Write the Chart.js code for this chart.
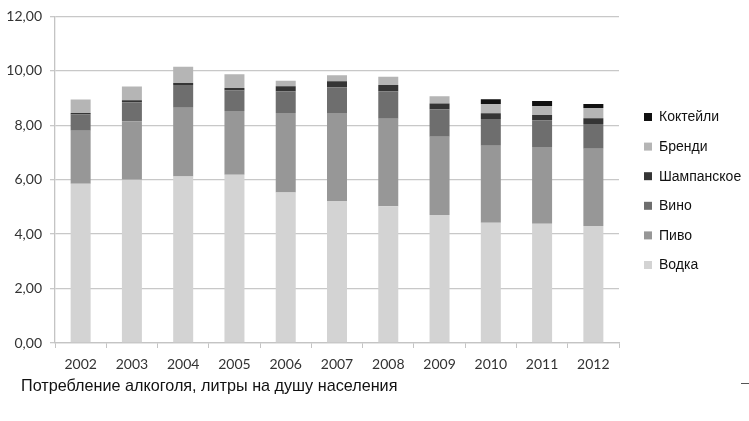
<!DOCTYPE html>
<html>
<head>
<meta charset="utf-8">
<script src="https://cdn.jsdelivr.net/npm/chart.js@4/dist/chart.umd.min.js"></script>
<style>
html,body{margin:0;padding:0;background:#fff;}
#wrap{width:749px;height:421px;position:relative;}
</style>
</head>
<body>
<div id="wrap"><canvas id="c" width="749" height="421"></canvas></div>
<script>
const years = ['2002','2003','2004','2005','2006','2007','2008','2009','2010','2011','2012'];
const vodka      = [5.85, 6.00, 6.12, 6.18, 5.53, 5.22, 5.02, 4.70, 4.42, 4.38, 4.30];
const beer       = [1.95, 2.15, 2.52, 2.34, 2.92, 3.23, 3.22, 2.88, 2.83, 2.82, 2.84];
const wine       = [0.60, 0.70, 0.84, 0.76, 0.80, 0.95, 1.01, 1.01, 0.98, 0.98, 0.91];
const champagne  = [0.05, 0.07, 0.07, 0.09, 0.18, 0.22, 0.23, 0.21, 0.21, 0.20, 0.21];
const brandy     = [0.50, 0.50, 0.60, 0.50, 0.21, 0.22, 0.30, 0.27, 0.34, 0.32, 0.37];
const cocktails  = [0.00, 0.00, 0.00, 0.00, 0.00, 0.00, 0.00, 0.00, 0.18, 0.19, 0.15];
const seriesNames = ['Водка','Пиво','Вино','Шампанское','Бренди','Коктейли'];
const yTicks = [0, 2, 4, 6, 8, 10, 12];
const footnote = 'Потребление алкоголя, литры на душу населения';

const colors = ['#d3d3d3','#979797','#6e6e6e','#353535','#b5b5b5','#111111'];
const seriesData = [vodka, beer, wine, champagne, brandy, cocktails];

const datasets = seriesNames.map((n, i) => ({
  label: n,
  data: seriesData[i],
  backgroundColor: colors[i],
  borderWidth: 0,
  barPercentage: 0.39,
  categoryPercentage: 1.0
}));

const legendPlugin = {
  id: 'customLegend',
  afterDraw(chart) {
    const ctx = chart.ctx;
    ctx.save();
    const ds = chart.data.datasets;
    const startY = 117, step = 29.6;
    ctx.font = '14px "Liberation Sans", Arial, sans-serif';
    ctx.textBaseline = 'middle';
    ctx.textAlign = 'left';
    for (let k = 0; k < ds.length; k++) {
      const d = ds[ds.length - 1 - k];
      const y = startY + k * step;
      ctx.fillStyle = d.backgroundColor;
      ctx.fillRect(644, y - 4, 8, 8);
      ctx.fillStyle = '#111';
      ctx.fillText(d.label, 659, y + 0.5);
    }
    ctx.font = '16.2px "Liberation Sans", Arial, sans-serif';
    ctx.fillStyle = '#111';
    ctx.fillText(footnote, 21, 387);
    ctx.fillStyle = '#555';
    ctx.fillRect(741, 383, 8, 1);
    ctx.restore();
  }
};

new Chart(document.getElementById('c'), {
  type: 'bar',
  data: { labels: years, datasets },
  plugins: [legendPlugin],
  options: {
    responsive: false,
    animation: false,
    layout: { padding: { left: 0, right: 130, top: 15, bottom: 0 } },
    plugins: { legend: { display: false }, tooltip: { enabled: false } },
    scales: {
      x: {
        stacked: true,
        afterFit(scale) { scale.height = 78; },
        grid: { offset: true, drawOnChartArea: false, drawTicks: true, tickLength: 5, color: '#c4c4c4', lineWidth: 1 },
        border: { display: true, color: '#c4c4c4', width: 1.3 },
        ticks: { color: '#333', font: { family: 'Lato', size: 14 }, padding: 8, maxRotation: 0 }
      },
      y: {
        stacked: true,
        min: 0, max: 12,
        afterFit(scale) { scale.width = 55; },
        afterBuildTicks(scale) { scale.ticks = yTicks.map(v => ({ value: v })); },
        grid: { color: '#c8c8c8', lineWidth: 1.3, drawTicks: true, tickLength: 5 },
        border: { display: true, color: '#c4c4c4', width: 1.3 },
        ticks: {
          color: '#333', font: { family: 'Lato', size: 14 }, padding: 8,
          callback: v => v.toFixed(2).replace('.', ',')
        }
      }
    }
  }
});
</script>
</body>
</html>
